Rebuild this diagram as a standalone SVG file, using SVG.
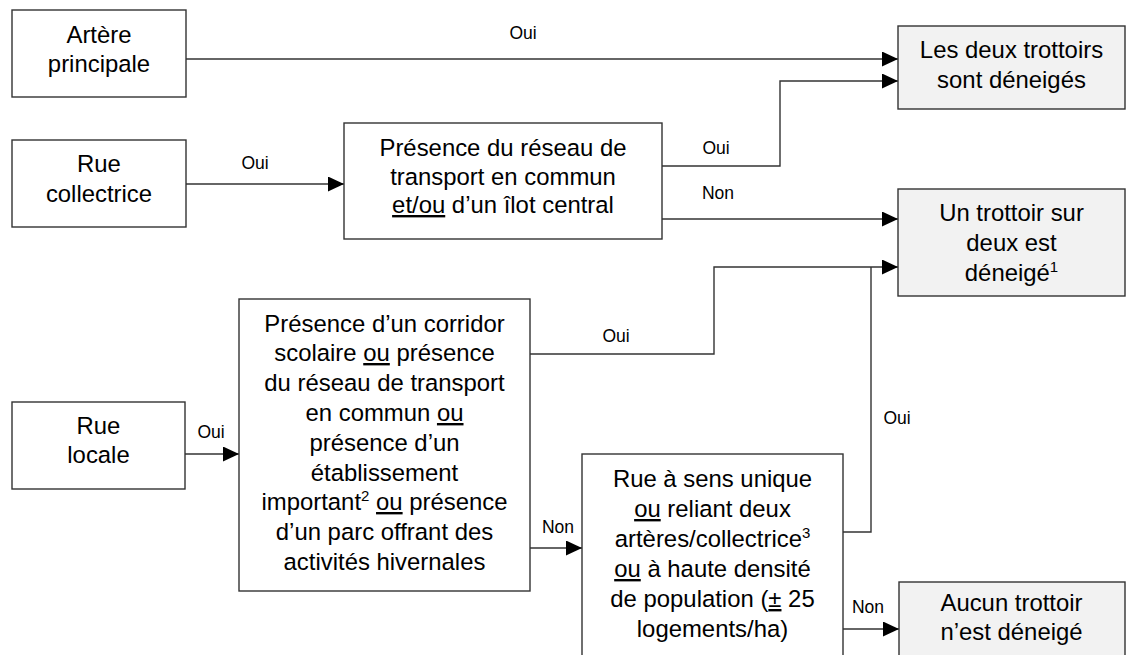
<svg xmlns="http://www.w3.org/2000/svg" width="1126" height="655" viewBox="0 0 1126 655">
<style>
.box{fill:#ffffff;stroke:#333333;stroke-width:1.4}
.res{fill:#f2f2f2;stroke:#333333;stroke-width:1.4}
.t{font-family:"Liberation Sans",Arial,sans-serif;font-size:23.9px;fill:#000;text-anchor:middle}
.l{font-family:"Liberation Sans",Arial,sans-serif;font-size:17.5px;fill:#000;text-anchor:middle}
.c{fill:none;stroke:#333333;stroke-width:1.4}
.u{text-decoration:underline}
.sup{font-size:15px}
</style>
<defs>
<marker id="ah" markerUnits="userSpaceOnUse" markerWidth="16" markerHeight="15" refX="16" refY="7.5" orient="auto">
<path d="M0,0 L16,7.5 L0,15 z" fill="#000"/>
</marker>
</defs>
<rect width="1126" height="655" fill="#ffffff"/>
<g id="connectors">
<path class="c" d="M186,59 H898" marker-end="url(#ah)"/>
<path class="c" d="M186,184 H344" marker-end="url(#ah)"/>
<path class="c" d="M662,166 H780 V81 H898" marker-end="url(#ah)"/>
<path class="c" d="M662,219 H898" marker-end="url(#ah)"/>
<path class="c" d="M185,454 H239" marker-end="url(#ah)"/>
<path class="c" d="M530,354 H714 V267 H898" marker-end="url(#ah)"/>
<path class="c" d="M530,548 H582" marker-end="url(#ah)"/>
<path class="c" d="M843,532 H871 V267"/>
<path class="c" d="M843,629 H899" marker-end="url(#ah)"/>
<text class="l" x="523" y="39">Oui</text>
<text class="l" x="255" y="169">Oui</text>
<text class="l" x="716" y="154">Oui</text>
<text class="l" x="718" y="199">Non</text>
<text class="l" x="211" y="438">Oui</text>
<text class="l" x="616" y="342">Oui</text>
<text class="l" x="558" y="533">Non</text>
<text class="l" x="897" y="424">Oui</text>
<text class="l" x="868" y="613">Non</text>
</g>
<g id="artere">
<rect class="box" x="12" y="10" width="174" height="87"/>
<text class="t" x="99" y="43">Artère</text>
<text class="t" x="99" y="72">principale</text>
</g>
<g id="collectrice">
<rect class="box" x="12" y="140" width="174" height="87"/>
<text class="t" x="99" y="172">Rue</text>
<text class="t" x="99" y="202">collectrice</text>
</g>
<g id="locale">
<rect class="box" x="12" y="402" width="173" height="87"/>
<text class="t" x="98.5" y="434">Rue</text>
<text class="t" x="98.5" y="463">locale</text>
</g>
<g id="q-transport">
<rect class="box" x="344" y="123" width="318" height="116"/>
<text class="t" x="503" y="156">Présence du réseau de</text>
<text class="t" x="503" y="185">transport en commun</text>
<text class="t" x="503" y="213"><tspan class="u">et/ou</tspan> d’un îlot central</text>
</g>
<g id="q-corridor">
<rect class="box" x="239" y="299" width="291" height="292"/>
<text class="t" x="384.5" y="332">Présence d’un corridor</text>
<text class="t" x="384.5" y="361">scolaire <tspan class="u">ou</tspan> présence</text>
<text class="t" x="384.5" y="391">du réseau de transport</text>
<text class="t" x="384.5" y="421">en commun <tspan class="u">ou</tspan></text>
<text class="t" x="384.5" y="451">présence d’un</text>
<text class="t" x="384.5" y="481">établissement</text>
<text class="t" x="384.5" y="510">important<tspan class="sup" dy="-9">2</tspan><tspan dy="9"> </tspan><tspan class="u">ou</tspan> présence</text>
<text class="t" x="384.5" y="540">d’un parc offrant des</text>
<text class="t" x="384.5" y="570">activités hivernales</text>
</g>
<g id="q-sens">
<rect class="box" x="582" y="454" width="261" height="230"/>
<text class="t" x="712.5" y="487">Rue à sens unique</text>
<text class="t" x="712.5" y="517"><tspan class="u">ou</tspan> reliant deux</text>
<text class="t" x="712.5" y="547">artères/collectrice<tspan class="sup" dy="-9">3</tspan></text>
<text class="t" x="712.5" y="577"><tspan class="u">ou</tspan> à haute densité</text>
<text class="t" x="712.5" y="607">de population (<tspan class="u">±</tspan> 25</text>
<text class="t" x="712.5" y="637">logements/ha)</text>
</g>
<g id="r-deux">
<rect class="res" x="898" y="26" width="227" height="83"/>
<text class="t" x="1011.5" y="58">Les deux trottoirs</text>
<text class="t" x="1011.5" y="88">sont déneigés</text>
</g>
<g id="r-un">
<rect class="res" x="898" y="189" width="227" height="107"/>
<text class="t" x="1011.5" y="221">Un trottoir sur</text>
<text class="t" x="1011.5" y="251">deux est</text>
<text class="t" x="1011.5" y="281">déneigé<tspan class="sup" dy="-9">1</tspan></text>
</g>
<g id="r-aucun">
<rect class="res" x="899" y="582" width="226" height="100"/>
<text class="t" x="1011.5" y="611">Aucun trottoir</text>
<text class="t" x="1011.5" y="640">n’est déneigé</text>
</g>
</svg>
